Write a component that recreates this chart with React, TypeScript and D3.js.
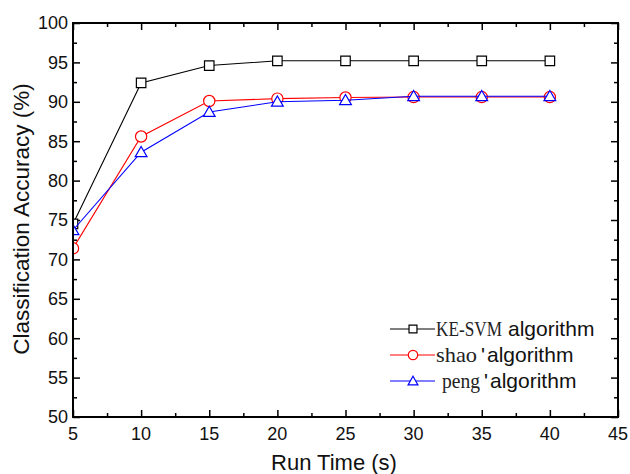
import React, { useEffect, useRef } from 'react';
import * as d3 from 'd3';

// Run times (s)
const runTimes = [5, 10, 15, 20, 25, 30, 35, 40];

// Classification accuracy (%) per algorithm
const keSvm = [74.5, 92.4, 94.6, 95.2, 95.2, 95.2, 95.2, 95.2];
const shao = [71.4, 85.6, 90.1, 90.4, 90.55, 90.6, 90.6, 90.6];
const peng = [73.7, 83.6, 88.7, 90.0, 90.2, 90.7, 90.7, 90.7];

const xTicks = [5, 10, 15, 20, 25, 30, 35, 40, 45];
const yTicks = [50, 55, 60, 65, 70, 75, 80, 85, 90, 95, 100];

const seriesNames = ['KE-SVM', 'shao', 'peng'];

const App = () => {
    const svgRef = useRef<SVGSVGElement>(null);

    useEffect(() => {
        const width = 630;
        const height = 474;
        const margin = { top: 23, right: 12, bottom: 57, left: 73 };
        const innerWidth = width - margin.left - margin.right;
        const innerHeight = height - margin.top - margin.bottom;

        d3.select(svgRef.current).selectAll('*').remove();

        const svg = d3.select(svgRef.current)
            .attr('width', width)
            .attr('height', height);

        const g = svg.append('g')
            .attr('transform', `translate(${margin.left},${margin.top})`);

        const xScale = d3.scaleLinear().domain([5, 45]).range([0, innerWidth]);
        const yScale = d3.scaleLinear().domain([50, 100]).range([innerHeight, 0]);

        const minorX = d3.range(7.5, 45, 5);
        const minorY = d3.range(52.5, 100, 5);

        const font = 'Arial, "Liberation Sans", sans-serif';

        // Ticks on all four sides, pointing inward
        const drawTicks = (axis: any, ticks: number[], size: number, transform: string) => {
            const a = g.append('g')
                .attr('transform', transform)
                .call(axis.tickValues(ticks).tickSize(size).tickSizeOuter(0).tickFormat(() => ''));
            a.select('.domain').remove();
            a.selectAll('line').attr('stroke', '#000').attr('stroke-width', 1.5);
        };

        drawTicks(d3.axisTop(xScale), xTicks, 7, `translate(0,${innerHeight})`);
        drawTicks(d3.axisTop(xScale), minorX, 4, `translate(0,${innerHeight})`);
        drawTicks(d3.axisBottom(xScale), xTicks, 7, 'translate(0,0)');
        drawTicks(d3.axisBottom(xScale), minorX, 4, 'translate(0,0)');
        drawTicks(d3.axisRight(yScale), yTicks, 7, 'translate(0,0)');
        drawTicks(d3.axisRight(yScale), minorY, 4, 'translate(0,0)');
        drawTicks(d3.axisLeft(yScale), yTicks, 7, `translate(${innerWidth},0)`);
        drawTicks(d3.axisLeft(yScale), minorY, 4, `translate(${innerWidth},0)`);

        // tick labels
        g.append('g').selectAll('text')
            .data(xTicks)
            .enter()
            .append('text')
            .attr('x', d => xScale(d))
            .attr('y', innerHeight + 23)
            .attr('text-anchor', 'middle')
            .attr('fill', '#111')
            .style('font-family', font)
            .style('font-size', '18px')
            .text(d => d);

        g.append('g').selectAll('text')
            .data(yTicks)
            .enter()
            .append('text')
            .attr('x', -5)
            .attr('y', d => yScale(d))
            .attr('dy', '0.36em')
            .attr('text-anchor', 'end')
            .attr('fill', '#111')
            .style('font-family', font)
            .style('font-size', '18px')
            .text(d => d);

        // axis titles
        svg.append('text')
            .attr('x', 334)
            .attr('y', 470)
            .attr('text-anchor', 'middle')
            .attr('fill', '#111')
            .style('font-family', font)
            .style('font-size', '22px')
            .text('Run Time (s)');

        svg.append('text')
            .attr('transform', `translate(29,219) rotate(-90)`)
            .attr('text-anchor', 'middle')
            .attr('fill', '#111')
            .style('font-family', font)
            .style('font-size', '22.5px')
            .text('Classification Accuracy (%)');

        const series = [
            { name: seriesNames[0], values: keSvm, color: '#000', marker: 'square', len: 66 },
            { name: seriesNames[1], values: shao, color: '#ff0000', marker: 'circle', len: 41 },
            { name: seriesNames[2], values: peng, color: '#0000ff', marker: 'triangle', len: 38 },
        ];

        const symbolPath = (marker: string, k: number) => {
            if (marker === 'square') return d3.symbol(d3.symbolSquare, 90 * k)();
            if (marker === 'circle') return d3.symbol(d3.symbolCircle, 100 * k)();
            return d3.symbol(d3.symbolTriangle, 60 * k)();
        };

        svg.append('defs').append('clipPath')
            .attr('id', 'plot-clip')
            .append('rect')
            .attr('x', 0)
            .attr('y', 0)
            .attr('width', innerWidth)
            .attr('height', innerHeight);

        const plot = g.append('g').attr('clip-path', 'url(#plot-clip)');

        const line = d3.line<number>()
            .x((d, i) => xScale(runTimes[i]))
            .y(d => yScale(d));

        series.forEach(s => {
            plot.append('path')
                .datum(s.values)
                .attr('fill', 'none')
                .attr('stroke', s.color)
                .attr('stroke-width', 1.1)
                .attr('d', line);

            plot.selectAll(`.m-${s.marker}`)
                .data(s.values)
                .enter()
                .append('path')
                .attr('class', `m-${s.marker}`)
                .attr('transform', (d, i) => `translate(${xScale(runTimes[i])},${yScale(d) + (s.marker === 'triangle' ? 1 : 0)})`)
                .attr('d', symbolPath(s.marker, 1))
                .attr('fill', '#fff')
                .attr('stroke', s.color)
                .attr('stroke-width', 1.2);
        });

        // frame
        g.append('rect')
            .attr('x', 0)
            .attr('y', 0)
            .attr('width', innerWidth)
            .attr('height', innerHeight)
            .attr('fill', 'none')
            .attr('stroke', '#000')
            .attr('stroke-width', 2);

        // legend
        const legend = svg.append('g');
        series.forEach((s, i) => {
            const y = 329 + i * 26;
            legend.append('line')
                .attr('x1', 390)
                .attr('x2', 435)
                .attr('y1', y)
                .attr('y2', y)
                .attr('stroke', s.color)
                .attr('stroke-width', 1.1);
            legend.append('path')
                .attr('transform', `translate(413,${y + (s.marker === 'triangle' ? 1 : 0)})`)
                .attr('d', symbolPath(s.marker, 0.7))
                .attr('fill', '#fff')
                .attr('stroke', s.color)
                .attr('stroke-width', 1.2);
            const x0 = i === 2 ? 442 : 436;
            // serif name, squeezed horizontally to the reference's width
            const name = legend.append('text')
                .attr('fill', '#222')
                .style('font-family', '"Liberation Serif", "DejaVu Serif", serif')
                .style('font-size', '21px')
                .text(s.name);
            const natural = (name.node() as SVGTextElement).getComputedTextLength() || s.len;
            name.attr('transform', `translate(${x0},${y + 7}) scale(${s.len / natural},1)`);
            if (i > 0) {
                legend.append('text')
                    .attr('x', x0 + s.len + 4)
                    .attr('y', y + 7)
                    .attr('fill', '#111')
                    .style('font-family', font)
                    .style('font-size', '21px')
                    .text('\'');
            }
            legend.append('text')
                .attr('x', i === 0 ? 508 : x0 + s.len + 10)
                .attr('y', y + 7)
                .attr('fill', '#111')
                .style('font-family', font)
                .style('font-size', '21px')
                .text('algorithm');
        });
    }, []);

    return (
        <div style={{ position: 'absolute', left: 0, top: 0, background: '#fff' }}>
            <svg ref={svgRef}></svg>
        </div>
    );
};

export default App;
